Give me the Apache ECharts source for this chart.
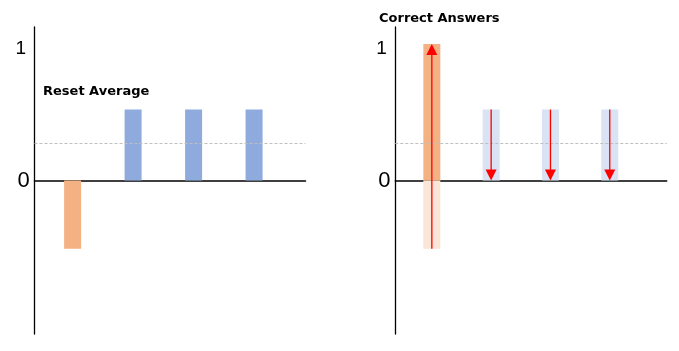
<!DOCTYPE html>
<html lang="en" style="height: 100%">
<head>
    <meta charset="UTF-8">
    <title>Reset Average / Correct Answers</title>
    <script src="https://cdn.jsdelivr.net/npm/echarts@6/dist/echarts.min.js"></script>
</head>
<body style="height: 100%; margin: 0">
<div id="main" style="width: 679px; height: 351px"></div>
<script>
    // data
    var answers = ['A', 'B', 'C', 'D'];
    var resetValues = [-0.5, 0.52, 0.52, 0.52];
    var correctValues = [1, 0, 0, 0];
    var tickLabels = ['0', '1'];
    var panelTitles = ['Reset Average', 'Correct Answers'];

    var ORANGE = '#F4B183', BLUE = '#8FAADC';
    var PALE_ORANGE = '#FBE5D6', PALE_BLUE = '#DAE3F3';

    function pairs(vals) {
        return vals.map(function (v, i) { return [i, v]; });
    }

    function yAxisOpt(gridIndex) {
        return {
            type: 'value', gridIndex: gridIndex,
            min: -1.125, max: 1.125, interval: 0.125,
            axisLine: {show: true, onZero: false, lineStyle: {color: '#000', width: 1.3}},
            axisTick: {show: false},
            splitLine: {show: false},
            axisLabel: {
                align: 'left', margin: 19,
                formatter: function (v) {
                    if (v === 1) return '{one|' + tickLabels[1] + '}';
                    if (v === 0) return '{zero|' + tickLabels[0] + '}';
                    return '';
                },
                rich: {
                    one: {fontFamily: 'Liberation Sans', fontSize: 19, color: '#000', padding: [10, 0, 0, 0]},
                    zero: {fontFamily: 'Liberation Sans', fontSize: 22, color: '#000', padding: [0, 0, 0, 2]}
                }
            }
        };
    }

    function xAxisOpt(gridIndex, min, max) {
        return {
            type: 'value', gridIndex: gridIndex, min: min, max: max,
            axisLine: {show: true, onZero: true, lineStyle: {color: '#000', width: 1.5}},
            axisTick: {show: false}, axisLabel: {show: false}, splitLine: {show: false}
        };
    }

    var avgLine = {
        silent: true, symbol: 'none', label: {show: false},
        lineStyle: {color: '#BFBFBF', type: [3, 2], width: 1},
        data: [{type: 'average'}]
    };

    var titleStyle = {fontFamily: 'DejaVu Sans', fontWeight: 'bold', fontSize: 13, color: '#000'};

    var option = {
        animation: false,
        backgroundColor: '#fff',
        title: [
            {text: panelTitles[0], left: 43, top: 85, padding: 0, textStyle: titleStyle},
            {text: panelTitles[1], left: 379, top: 12, padding: 0, textStyle: titleStyle}
        ],
        grid: [
            {left: 34.5, top: 27, width: 271, height: 307},
            {left: 395.3, top: 27, width: 271.4, height: 307}
        ],
        xAxis: [xAxisOpt(0, -0.63, 3.85), xAxisOpt(1, -0.616, 3.96)],
        yAxis: [yAxisOpt(0), yAxisOpt(1)],
        series: [
            {
                name: 'Reset Average', type: 'bar', xAxisIndex: 0, yAxisIndex: 0,
                barWidth: 17,
                data: pairs(resetValues),
                itemStyle: {color: function (p) { return p.value[1] < 0 ? ORANGE : BLUE; }},
                markLine: avgLine
            },
            {
                name: 'Previous', type: 'bar', xAxisIndex: 1, yAxisIndex: 1,
                barWidth: 17, barGap: '-100%',
                data: pairs(resetValues),
                itemStyle: {color: function (p) { return p.value[1] < 0 ? PALE_ORANGE : PALE_BLUE; }},
                markLine: avgLine
            },
            {
                name: 'Correct Answers', type: 'bar', xAxisIndex: 1, yAxisIndex: 1,
                barWidth: 17, barGap: '-100%',
                data: pairs(correctValues),
                itemStyle: {color: ORANGE}
            },
            {
                name: 'Change', type: 'custom', xAxisIndex: 1, yAxisIndex: 1,
                z: 5, clip: false,
                dimensions: ['idx', 'from', 'to'],
                encode: {x: 'idx', y: ['from', 'to']},
                data: answers.map(function (a, i) { return [i, resetValues[i], correctValues[i]]; }),
                renderItem: function (params, api) {
                    var i = params.dataIndex;
                    var from = api.coord([i, resetValues[i]]);
                    var to = api.coord([i, correctValues[i]]);
                    var dir = to[1] < from[1] ? 1 : -1;
                    var h = 11, w = 5.5;
                    return {
                        type: 'group',
                        children: [
                            {
                                type: 'line',
                                shape: {x1: from[0], y1: from[1], x2: to[0], y2: to[1] + dir * h * 0.5},
                                style: {stroke: '#FF0000', lineWidth: 1.3}
                            },
                            {
                                type: 'polygon',
                                shape: {points: [[to[0], to[1]], [to[0] - w, to[1] + dir * h], [to[0] + w, to[1] + dir * h]]},
                                style: {fill: '#FF0000'}
                            }
                        ]
                    };
                }
            }
        ]
    };

    var myChart = echarts.init(document.getElementById('main'));
    myChart.setOption(option);
</script>
</body>
</html>
